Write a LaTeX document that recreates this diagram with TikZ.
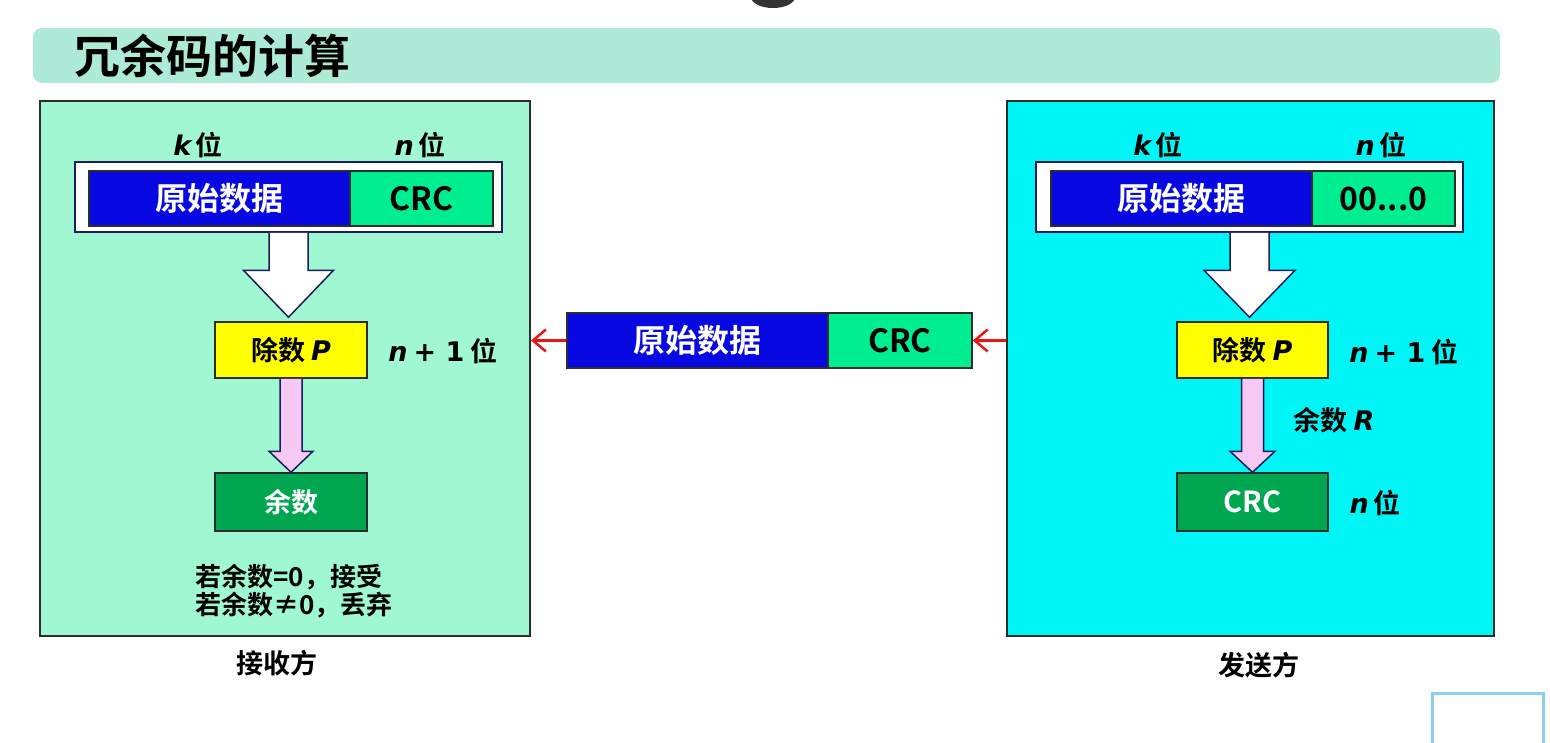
\documentclass[tikz,border=0pt]{standalone}
\usepackage{fontspec}
\setmainfont{Noto Sans CJK SC}[BoldFont={Noto Sans CJK SC Bold}]
\newfontfamily\itf{DejaVu Sans}
\usetikzlibrary{arrows.meta,calc}
\definecolor{titlec}{RGB}{173,234,216}
\definecolor{mintc}{RGB}{160,248,210}
\definecolor{cyanc}{RGB}{0,246,246}
\definecolor{bluec}{RGB}{8,8,226}
\definecolor{crcc}{RGB}{0,238,146}
\definecolor{dgreenc}{RGB}{0,166,80}
\definecolor{yellowc}{RGB}{255,255,0}
\definecolor{pinkc}{RGB}{246,200,244}
\definecolor{navyc}{RGB}{28,28,90}
\definecolor{edgec}{RGB}{45,45,45}
\definecolor{redc}{RGB}{235,20,20}
\definecolor{lbluec}{RGB}{140,205,245}
\newcommand\iv[1]{{\itf\bfseries\itshape #1}}
\newcommand\blockarrow[7]{% from, to, shaft half, head half, head length, gap, style
  \filldraw[#7] let \p1=(#1.south), \p2=(#2.north) in
    (\x1-#3,\y1) -- (\x1-#3,\y2+#6+#5) -- (\x1-#4,\y2+#6+#5) -- (\x1,\y2+#6)
    -- (\x1+#4,\y2+#6+#5) -- (\x1+#3,\y2+#6+#5) -- (\x1+#3,\y1);
}
\begin{document}
\begin{tikzpicture}[x=1pt,y=-1pt,
  panel/.style={draw=edgec, line width=2pt, inner sep=0pt},
  cell/.style={draw=edgec, line width=1.5pt, inner sep=0pt, font=\bfseries\fontsize{32}{36}\selectfont},
  lbl/.style={inner sep=0pt, font=\bfseries\fontsize{27}{30}\selectfont},
  whitearr/.style={fill=white, draw=navyc, line width=1.5pt, line join=miter},
  pinkarr/.style={fill=pinkc, draw=navyc, line width=1.5pt, line join=miter},
  redarr/.style={draw=redc, line width=2.5pt, -{Straight Barb[length=13pt,width=22pt,line width=2.5pt]}}
]
\useasboundingbox (0,0) rectangle (1550,742);
% top artefact
\fill[gray!40!black] (773,-3) ellipse (22pt and 11pt);
% title bar
\node[fill=titlec, rounded corners=9pt, minimum width=1467pt, minimum height=55pt, inner sep=0pt] (tbar) at (766.5,55.5) {};
\node[anchor=west, inner sep=0pt, font=\bfseries\fontsize{46}{50}\selectfont] (title) at (74,56) {冗余码的计算};

% ---------- receiver ----------
\node[panel, fill=mintc, minimum width=490pt, minimum height=535pt] (lbox) at (285,368.5) {};
\node[lbl] (lk) at (198,145) {\iv{k}\,位};
\node[lbl] (ln) at (420,145) {\iv{n}\,位};
\node[draw=navyc, line width=1.5pt, fill=white, minimum width=427pt, minimum height=70pt, inner sep=0pt] (louter) at (288.5,197) {};
\node[cell, fill=bluec, text=white, minimum width=261pt, minimum height=55pt] (lblue) at (219.5,198.5) {原始数据};
\node[cell, fill=crcc, minimum width=143pt, minimum height=55pt] (lgreen) at (421.5,198.5) {CRC};
\node[cell, fill=yellowc, minimum width=152pt, minimum height=56pt, font=\bfseries\fontsize{27}{30}\selectfont] (ly) at (291,350) {除数\ \iv{P}};
\node[lbl] (ln1) at (443,351) {\iv{n}\ {\itf\bfseries +\ 1}\ 位};
\node[cell, fill=dgreenc, text=white, minimum width=152pt, minimum height=58pt, font=\bfseries\fontsize{27}{30}\selectfont] (lrem) at (291,502) {余数};
\node[lbl, font=\bfseries\fontsize{26}{28}\selectfont, align=left] (lrule) at (294,591) {若余数=0，接受\\若余数≠0，丢弃};
\node[lbl] (lname) at (277,663) {接收方};
\blockarrow{louter}{ly}{19.5pt}{45pt}{47pt}{4pt}{whitearr}
\blockarrow{ly}{lrem}{11pt}{22pt}{21pt}{0pt}{pinkarr}

% ---------- sender ----------
\node[panel, fill=cyanc, minimum width=487pt, minimum height=535pt] (rbox) at (1250.5,368.5) {};
\node[lbl] (rk) at (1158,145) {\iv{k}\,位};
\node[lbl] (rn) at (1381,145) {\iv{n}\,位};
\node[draw=navyc, line width=1.5pt, fill=white, minimum width=427pt, minimum height=70pt, inner sep=0pt] (router) at (1249.5,197) {};
\node[cell, fill=bluec, text=white, minimum width=261pt, minimum height=55pt] (rblue) at (1181.5,198.5) {原始数据};
\node[cell, fill=crcc, minimum width=143pt, minimum height=55pt] (rgreen) at (1383.5,198.5) {00...0};
\node[cell, fill=yellowc, minimum width=151pt, minimum height=56pt, font=\bfseries\fontsize{27}{30}\selectfont] (ry) at (1252.5,350) {除数\ \iv{P}};
\node[lbl] (rn1) at (1404,352) {\iv{n}\ {\itf\bfseries +\ 1}\ 位};
\node[lbl] (rrem) at (1334,420) {余数\ \iv{R}};
\node[cell, fill=dgreenc, text=white, minimum width=151pt, minimum height=58pt, font=\bfseries\fontsize{29}{30}\selectfont] (rcrc) at (1252.5,502) {CRC};
\node[lbl] (rnb) at (1375,503) {\iv{n}\,位};
\node[lbl] (rname) at (1259,665) {发送方};
\blockarrow{router}{ry}{19.5pt}{45.5pt}{47pt}{4pt}{whitearr}
\blockarrow{ry}{rcrc}{11pt}{22.5pt}{21pt}{0pt}{pinkarr}

% ---------- transmitted frame ----------
\node[cell, fill=bluec, text=white, minimum width=261pt, minimum height=55pt] (mblue) at (697.5,340.5) {原始数据};
\node[cell, fill=crcc, minimum width=144pt, minimum height=55pt] (mgreen) at (900,340.5) {CRC};
\draw[redarr] (rbox.west |- mgreen.east) -- (mgreen.east);
\draw[redarr] (mblue.west) -- (lbox.east |- mblue.west);

% bottom-right frame
\draw[lbluec, line width=3pt] (1432,693) rectangle (1543,760);
\end{tikzpicture}
\end{document}
